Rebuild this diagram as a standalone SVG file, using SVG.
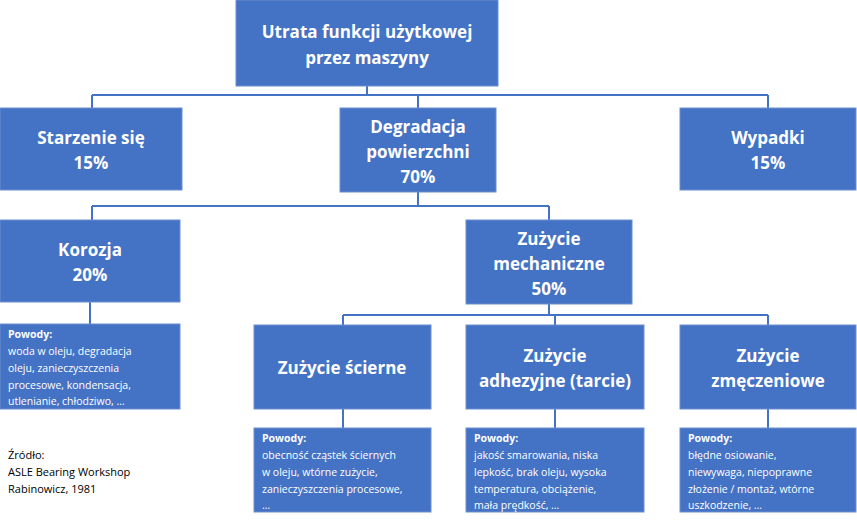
<svg xmlns="http://www.w3.org/2000/svg" width="857" height="521" viewBox="0 0 857 521">
<style>
.b{fill:#4472C4;stroke:#6d8fd0;stroke-width:1}
.t{font-family:"Open Sans","Liberation Sans",sans-serif;font-weight:bold;fill:#fff;font-size:17px;text-anchor:middle}
.s{font-family:"Open Sans","Liberation Sans",sans-serif;fill:#fff;font-size:10.5px}
.sb{font-weight:bold}
.c{stroke:#4472C4;stroke-width:2;fill:none}
.k{font-family:"Open Sans","Liberation Sans",sans-serif;fill:#000;font-size:11px}
</style>
<rect width="857" height="521" fill="#fff"/>
<g id="connectors">
<path class="c" d="M367 86V95M92 95H768M92 95V108M418 95V108M768 95V108"/>
<path class="c" d="M418 192V206M92 206H549M92 206V220M549 206V220"/>
<path class="c" d="M90 302V324"/>
<path class="c" d="M549 304V315M343 315H768M343 315V325M555 315V325M768 315V325"/>
<path class="c" d="M343 409V428M555 409V428M768 409V428"/>
</g>
<g id="root"><rect class="b" x="236" y="0" width="262" height="86"/><text class="t" x="367" y="38">Utrata funkcji użytkowej</text><text class="t" x="367" y="64">przez maszyny</text></g>
<g id="starzenie"><rect class="b" x="0" y="108" width="182" height="82"/><text class="t" x="91" y="144">Starzenie się</text><text class="t" x="91" y="169">15%</text></g>
<g id="degradacja"><rect class="b" x="340" y="108" width="156" height="84"/><text class="t" x="418" y="133">Degradacja</text><text class="t" x="418" y="158">powierzchni</text><text class="t" x="418" y="183">70%</text></g>
<g id="wypadki"><rect class="b" x="680" y="108" width="176" height="82"/><text class="t" x="768" y="144">Wypadki</text><text class="t" x="768" y="169">15%</text></g>
<g id="korozja"><rect class="b" x="0" y="220" width="180" height="82"/><text class="t" x="90" y="256">Korozja</text><text class="t" x="90" y="281">20%</text></g>
<g id="mechaniczne"><rect class="b" x="466" y="220" width="166" height="84"/><text class="t" x="549" y="245">Zużycie</text><text class="t" x="549" y="270">mechaniczne</text><text class="t" x="549" y="295">50%</text></g>
<g id="korozja-powody"><rect class="b" x="0" y="324" width="180" height="85"/><text class="s"><tspan class="sb" x="8" y="338">Powody:</tspan><tspan x="8" y="355">woda w oleju, degradacja</tspan><tspan x="8" y="372">oleju, zanieczyszczenia</tspan><tspan x="8" y="389">procesowe, kondensacja,</tspan><tspan x="8" y="405">utlenianie, chłodziwo, …</tspan></text></g>
<g id="scierne"><rect class="b" x="254" y="325" width="177" height="84"/><text class="t" x="342" y="374">Zużycie ścierne</text></g>
<g id="adhezyjne"><rect class="b" x="466" y="325" width="178" height="84"/><text class="t" x="555" y="362">Zużycie</text><text class="t" x="555" y="387">adhezyjne (tarcie)</text></g>
<g id="zmeczeniowe"><rect class="b" x="680" y="325" width="176" height="84"/><text class="t" x="768" y="362">Zużycie</text><text class="t" x="768" y="387">zmęczeniowe</text></g>
<g id="scierne-powody"><rect class="b" x="254" y="428" width="177" height="84"/><text class="s"><tspan class="sb" x="262" y="442">Powody:</tspan><tspan x="262" y="459">obecność cząstek ściernych</tspan><tspan x="262" y="476">w oleju, wtórne zużycie,</tspan><tspan x="262" y="493">zanieczyszczenia  procesowe,</tspan><tspan x="262" y="509">…</tspan></text></g>
<g id="adhezyjne-powody"><rect class="b" x="466" y="428" width="178" height="84"/><text class="s"><tspan class="sb" x="474" y="442">Powody:</tspan><tspan x="474" y="459">jakość smarowania, niska</tspan><tspan x="474" y="476">lepkość, brak oleju, wysoka</tspan><tspan x="474" y="493">temperatura, obciążenie,</tspan><tspan x="474" y="509">mała prędkość, …</tspan></text></g>
<g id="zmeczeniowe-powody"><rect class="b" x="680" y="428" width="176" height="84"/><text class="s"><tspan class="sb" x="688" y="442">Powody:</tspan><tspan x="688" y="459">błędne osiowanie,</tspan><tspan x="688" y="476">niewywaga, niepoprawne</tspan><tspan x="688" y="493">złożenie / montaż, wtórne</tspan><tspan x="688" y="509">uszkodzenie, …</tspan></text></g>
<g id="zrodlo"><text class="k"><tspan x="8" y="459">Źródło:</tspan><tspan x="8" y="476">ASLE Bearing Workshop</tspan><tspan x="8" y="493">Rabinowicz, 1981</tspan></text></g>
</svg>
